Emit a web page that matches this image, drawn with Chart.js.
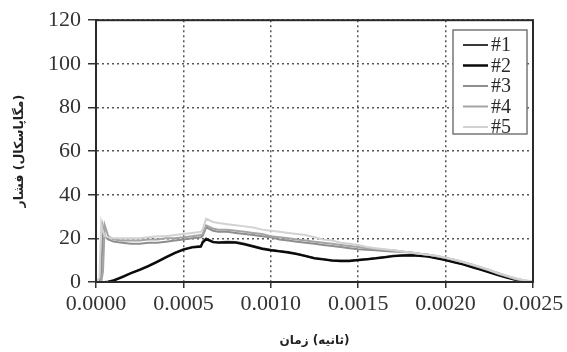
<!DOCTYPE html>
<html dir="ltr">
<head>
<meta charset="utf-8">
<script src="https://cdn.jsdelivr.net/npm/chart.js@4/dist/chart.umd.min.js"></script>
<style>
html,body{margin:0;padding:0;background:#fff;}
#wrap{width:567px;height:352px;position:relative;}
</style>
</head>
<body>
<div id="wrap"><canvas id="c" dir="ltr" width="567" height="352"></canvas></div>
<script>
// time (s)
const time = [0, 0.00002, 0.00003, 0.00004, 0.00005, 0.00007, 0.0001, 0.00015, 0.0002, 0.00025,
  0.0003, 0.00035, 0.0004, 0.00045, 0.0005, 0.00055, 0.0006, 0.00061, 0.00063, 0.00067,
  0.0007, 0.00075, 0.0008, 0.00085, 0.0009, 0.00095, 0.001, 0.00105, 0.0011, 0.00115,
  0.0012, 0.00125, 0.0013, 0.00135, 0.0014, 0.00145, 0.0015, 0.00155, 0.0016, 0.00165,
  0.0017, 0.00175, 0.0018, 0.00185, 0.0019, 0.00195, 0.002, 0.00205, 0.0021, 0.00215,
  0.0022, 0.00225, 0.0023, 0.00235, 0.0024, 0.00245, 0.0025];

// pressure (MPa)
const s1 = [0, 0, 0, 0, 0, 0.2, 0.8, 2.5, 4.2, 5.8,
  7.5, 9.5, 11.5, 13.5, 15, 16, 16.5, 18.5, 20, 18.5,
  18.2, 18.5, 18.3, 17.5, 16.5, 15.5, 14.8, 14.2, 13.8, 13,
  12, 11, 10.5, 10, 9.8, 9.8, 10.2, 10.6, 11, 11.5,
  12, 12.3, 12.4, 12.2, 11.8, 11, 10.2, 9.2, 8.2, 7,
  5.8, 4.6, 3.3, 2.2, 1.2, 0.4, 0];
const s2 = [0, 0, 0, 0, 0, 0.1, 0.6, 2.2, 4, 5.5,
  7.2, 9.2, 11.2, 13.2, 14.8, 15.8, 16.2, 18, 19.6, 18.2,
  18, 18.2, 18, 17.2, 16.2, 15.2, 14.5, 14, 13.5, 12.8,
  11.8, 10.8, 10.3, 9.8, 9.6, 9.6, 10, 10.4, 10.8, 11.3,
  11.8, 12.1, 12.2, 12, 11.6, 10.8, 10, 9, 8, 6.8,
  5.6, 4.4, 3.1, 2, 1, 0.3, 0];
const s3 = [0, 0, 4, 25, 21, 19.5, 18.5, 18, 17.5, 17.5,
  18, 18, 18.5, 19, 19.5, 20, 20.5, 21, 25, 23.5,
  23, 23, 22.5, 22, 21.5, 21, 20.5, 19.5, 19, 18.5,
  18, 17.5, 17, 16.5, 16, 15.5, 15, 14.8, 14.5, 14.2,
  14, 13.8, 13.5, 13, 12.5, 11.8, 11, 10, 9, 7.8,
  6.5, 5.2, 3.8, 2.5, 1.3, 0.5, 0];
const s4 = [0, 0, 0, 5, 26, 21, 19.5, 19, 19, 19,
  19.5, 19.5, 20, 20, 20.5, 21, 21.5, 22, 26, 24.5,
  24, 24, 23.5, 23, 22.5, 22, 21, 20.5, 20, 19.5,
  19, 18.5, 18, 17.5, 17, 16.5, 16, 15.5, 15, 14.8,
  14.5, 14, 13.5, 13, 12.5, 11.8, 11, 10.2, 9.2, 8,
  6.8, 5.5, 4.2, 2.8, 1.6, 0.7, 0.2];
const s5 = [0, 2, 27, 23, 21, 20.5, 20, 20, 20, 20,
  20.5, 21, 21, 21.5, 22, 22.5, 23, 24, 29, 27.5,
  27, 26.5, 26, 25.5, 25, 24, 23.5, 23, 22.5, 22,
  21.5, 20.5, 19.5, 19, 18, 17.5, 17, 16, 15.5, 15,
  14.5, 14, 13.5, 13, 12.5, 12, 11.2, 10.2, 9.2, 8,
  6.8, 5.5, 4, 2.8, 1.6, 0.8, 0.3];

const seriesNames = ['#1', '#2', '#3', '#4', '#5'];
const seriesData = [s1, s2, s3, s4, s5];
const seriesColors = ['#3a3a3a', '#0a0a0a', '#8e8e8e', '#a4a4a4', '#d2d2d2'];
const xTitle = '\u2066زمان\u2069 \u2066(ثانیه)\u2069';
const yTitle = '\u2066فشار\u2069 \u2066(مگاپاسکال)\u2069';

const datasets = seriesNames.map((n, k) => ({
  label: n,
  data: time.map((t, i) => ({x: t, y: seriesData[k][i]})),
  borderColor: seriesColors[k],
  backgroundColor: seriesColors[k],
  borderWidth: k === 1 ? 2.2 : 2,
  pointRadius: 0,
  tension: 0,
  fill: false
})).reverse();

const frameAndLegend = {
  id: 'frameAndLegend',
  afterDraw(chart) {
    const ctx = chart.ctx;
    const a = chart.chartArea;
    ctx.save();
    ctx.setLineDash([]);
    ctx.strokeStyle = '#2a2a2a';
    ctx.lineWidth = 2;
    ctx.strokeRect(a.left, a.top, a.right - a.left, a.bottom - a.top);
    // legend box
    const bx = 453, by = 30, bw = 74, bh = 104;
    ctx.fillStyle = '#fff';
    ctx.fillRect(bx, by, bw, bh);
    ctx.strokeStyle = '#777';
    ctx.lineWidth = 1.5;
    ctx.strokeRect(bx, by, bw, bh);
    ctx.font = '20px "Liberation Serif"';
    ctx.textBaseline = 'middle';
    ctx.textAlign = 'left';
    seriesNames.forEach((n, k) => {
      const y = by + 15 + k * 20.5;
      ctx.strokeStyle = seriesColors[k];
      ctx.lineWidth = k === 1 ? 2.5 : 2;
      ctx.beginPath();
      ctx.moveTo(463, y);
      ctx.lineTo(488, y);
      ctx.stroke();
      ctx.fillStyle = '#2a2a2a';
      ctx.fillText(n, 491, y + 1);
    });
    ctx.restore();
  }
};

new Chart(document.getElementById('c'), {
  type: 'line',
  data: {datasets},
  plugins: [frameAndLegend],
  options: {
    responsive: false,
    animation: false,
    layout: {padding: {top: 20, right: 34, left: 0, bottom: 0}},
    plugins: {legend: {display: false}, tooltip: {enabled: false}},
    scales: {
      x: {
        type: 'linear',
        min: 0, max: 0.0025,
        afterFit(s) { s.height = 70; },
        ticks: {
          stepSize: 0.0005,
          callback: v => Number(v).toFixed(4),
          font: {family: '"Liberation Serif"', size: 22},
          color: '#333',
          padding: 3,
          maxRotation: 0,
          autoSkip: false
        },
        grid: {color: '#555', lineWidth: 1.5, tickLength: 6, tickColor: '#333', tickBorderDash: [], tickWidth: 1.5},
        border: {display: true, color: '#2a2a2a', width: 2, dash: [2, 3]},
        title: {display: true, text: xTitle, font: {family: '"DejaVu Sans"', size: 12, weight: 'bold'}, color: '#222', padding: {top: 0, bottom: 4}}
      },
      y: {
        min: 0, max: 120,
        afterFit(s) { s.width = 96; },
        ticks: {
          stepSize: 20,
          font: {family: '"Liberation Serif"', size: 22},
          color: '#333',
          padding: 7
        },
        grid: {color: '#555', lineWidth: 1.5, tickLength: 8, tickColor: '#333', tickBorderDash: [], tickWidth: 1.5},
        border: {display: true, color: '#2a2a2a', width: 2, dash: [2, 3]},
        title: {display: true, text: yTitle, font: {family: '"DejaVu Sans"', size: 12.5, weight: 'bold'}, color: '#222', padding: {top: 12, bottom: 0}}
      }
    }
  }
});
</script>
</body>
</html>
